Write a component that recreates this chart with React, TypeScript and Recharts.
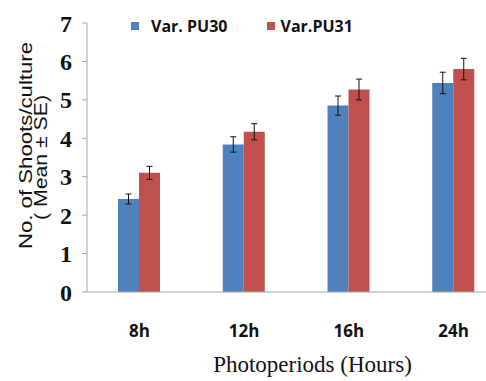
import React from 'react';
import { BarChart, Bar, XAxis, YAxis, ErrorBar, Legend } from 'recharts';

const categories = ['8h', '12h', '16h', '24h'];
const pu30 = [2.42, 3.84, 4.85, 5.44];
const pu31 = [3.1, 4.17, 5.27, 5.8];
const pu30Se = [0.13, 0.2, 0.25, 0.28];
const pu31Se = [0.17, 0.21, 0.27, 0.28];
const yTicks = [0, 1, 2, 3, 4, 5, 6, 7];

const BLUE = '#4F81BD';
const RED = '#C0504D';
const AXIS = '#A6A6A6';

const data = categories.map((c, i) => ({
  name: c,
  pu30: pu30[i],
  pu31: pu31[i],
  pu30Se: pu30Se[i],
  pu31Se: pu31Se[i],
}));

const XTick = ({ x, y, payload }: any) => (
  <text
    x={x}
    y={y + 37}
    textAnchor="middle"
    fontFamily="'Open Sans', sans-serif"
    fontWeight={700}
    fontSize={17}
    fill="#111"
  >
    {payload.value}
  </text>
);

const XTitle = ({ viewBox }: any) => (
  <text
    x={viewBox.x + viewBox.width / 2 + 16}
    y={viewBox.y + 80}
    textAnchor="middle"
    fontFamily="'Liberation Serif', 'Times New Roman', serif"
    fontSize={23}
    fill="#111"
  >
    Photoperiods (Hours)
  </text>
);

// the source image is stretched vertically, so the rotated title is scaled along its length
const YTitle = ({ viewBox }: any) => {
  const cy = viewBox.y + viewBox.height / 2;
  return (
    <g fontFamily="'Liberation Sans', Arial, sans-serif" fontSize={18.5} fill="#111">
      <text textAnchor="middle" transform={`translate(31.5 ${cy - 12}) rotate(-90) scale(1.2 1)`}>
        No. of Shoots/culture
      </text>
      <text textAnchor="middle" transform={`translate(46.5 ${cy}) rotate(-90) scale(1.15 1)`}>
        ( Mean ± SE)
      </text>
    </g>
  );
};

const renderLegend = ({ payload }: any) => (
  <div style={{ display: 'flex', alignItems: 'center' }}>
    {(payload || []).map((p: any, i: number) => (
      <div key={p.value} style={{ display: 'flex', alignItems: 'center', marginRight: i === 0 ? 40 : 0 }}>
        <span style={{ display: 'inline-block', width: 8, height: 8, background: p.color, marginRight: i === 0 ? 12 : 5 }} />
        <span
          style={{
            fontFamily: "'Open Sans', sans-serif",
            fontWeight: 700,
            fontSize: 16,
            color: '#111',
            lineHeight: '20px',
          }}
        >
          {p.value}
        </span>
      </div>
    ))}
  </div>
);

export default function App() {
  return (
    <div style={{ position: 'absolute', left: 0, top: 0, width: 486, height: 381, overflow: 'hidden', background: '#fff' }}>
      <BarChart
        width={512}
        height={381}
        data={data}
        margin={{ top: 23, right: 6, bottom: 0, left: 0 }}
        barGap={0}
        barSize={21}
      >
        <XAxis
          dataKey="name"
          height={89}
          tickLine={false}
          axisLine={{ stroke: AXIS }}
          tick={<XTick />}
          label={<XTitle />}
          interval={0}
        />
        <YAxis
          width={87}
          domain={[0, 7]}
          ticks={yTicks}
          interval={0}
          tickSize={5}
          tickMargin={10}
          axisLine={{ stroke: AXIS }}
          tickLine={{ stroke: AXIS }}
          tick={{ fontFamily: "'Liberation Serif', 'Times New Roman', serif", fontWeight: 700, fontSize: 24, fill: '#111' }}
          label={<YTitle />}
        />
        <Legend
          layout="horizontal"
          verticalAlign="middle"
          align="center"
          content={renderLegend}
          wrapperStyle={{ top: 16, left: 131, width: 300 }}
        />
        <Bar dataKey="pu30" name="Var. PU30" fill={BLUE} isAnimationActive={false}>
          <ErrorBar dataKey="pu30Se" width={3} stroke="#111" strokeWidth={1} isAnimationActive={false} />
        </Bar>
        <Bar dataKey="pu31" name="Var.PU31" fill={RED} isAnimationActive={false}>
          <ErrorBar dataKey="pu31Se" width={3} stroke="#111" strokeWidth={1} isAnimationActive={false} />
        </Bar>
      </BarChart>
    </div>
  );
}
